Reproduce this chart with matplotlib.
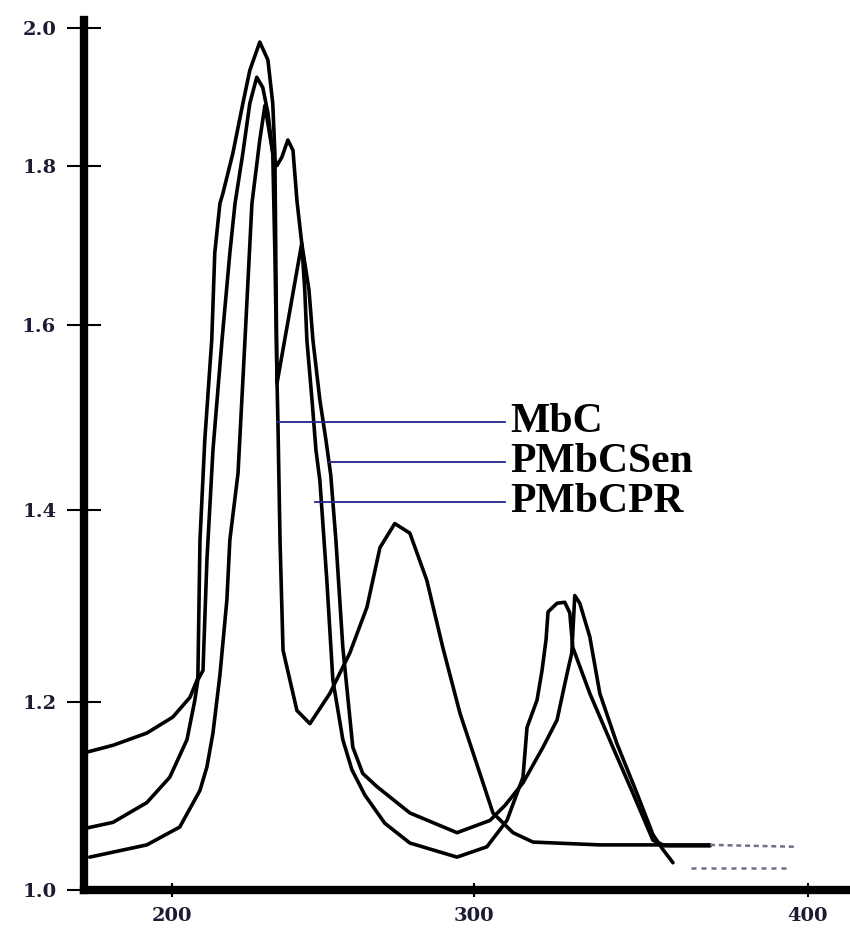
import numpy as np
import matplotlib.pyplot as plt

# UV spectra (wavelength nm, absorbance)
mbc_x = [172.8, 191.7, 202.6, 209.3, 211.6, 213.6, 215.9, 218.2, 219.2, 221.9,
         224.2, 226.5, 229.1, 230.8, 233.4, 234.1, 234.8, 235.1, 235.8, 236.8,
         241.4, 245.7, 252.3, 258.9, 264.6, 268.9, 273.8, 278.8, 284.4, 289.7,
         295.4, 301.8, 305.7, 311.7, 317.7, 337.7, 370.7]
mbc_y = [1.035, 1.048, 1.067, 1.106, 1.131, 1.167, 1.228, 1.306, 1.369, 1.440,
         1.584, 1.753, 1.838, 1.888, 1.819, 1.691, 1.541, 1.497, 1.369, 1.254,
         1.191, 1.177, 1.209, 1.251, 1.299, 1.361, 1.386, 1.376, 1.327, 1.257,
         1.188, 1.124, 1.082, 1.061, 1.051, 1.048, 1.048]
mbc_tail_x = [370.7, 396.7]
mbc_tail_y = [1.048, 1.046]

sen_x = [171.9, 180.5, 191.7, 199.3, 205.0, 207.6, 208.6, 210.3, 211.6, 213.6,
         216.6, 219.2, 220.9, 223.5, 225.8, 228.1, 230.1, 231.8, 233.4, 234.8,
         236.4, 238.4, 240.1, 241.4, 243.0, 245.4, 246.7, 249.0, 251.0, 252.6,
         254.3, 256.6, 259.9, 263.2, 267.9, 278.8, 294.4, 304.8, 309.3, 314.7,
         320.7, 324.9, 326.6, 328.1, 329.3, 330.2, 331.7, 334.7, 337.7, 342.8,
         348.8, 353.6, 356.6, 359.6]
sen_y = [1.066, 1.072, 1.093, 1.120, 1.160, 1.202, 1.223, 1.233, 1.348, 1.465,
         1.584, 1.691, 1.753, 1.819, 1.891, 1.929, 1.914, 1.877, 1.819, 1.801,
         1.813, 1.838, 1.823, 1.757, 1.703, 1.644, 1.584, 1.519, 1.476, 1.438,
         1.369, 1.257, 1.152, 1.124, 1.110, 1.082, 1.061, 1.074, 1.090, 1.114,
         1.152, 1.181, 1.209, 1.233, 1.251, 1.311, 1.303, 1.268, 1.209, 1.156,
         1.103, 1.059, 1.043, 1.029]
sen_tail_x = [365.1, 395.0]
sen_tail_y = [1.023, 1.023]

pr_x = [172.2, 180.5, 191.7, 200.3, 206.0, 208.6, 209.3, 210.9, 213.2, 214.2,
        215.9, 216.9, 220.2, 223.5, 225.8, 229.1, 231.8, 233.4, 234.1, 234.4,
        234.8, 239.1, 243.0, 244.0, 244.7, 246.4, 247.7, 249.0, 251.3, 253.3,
        256.6, 259.6, 263.9, 270.5, 278.8, 294.4, 303.9, 309.9, 314.7, 315.9,
        318.9, 320.4, 321.6, 322.2, 324.9, 327.2, 328.7, 329.6, 334.7, 341.6,
        347.6, 353.6, 357.2, 370.7]
pr_y = [1.147, 1.154, 1.167, 1.184, 1.205, 1.225, 1.369, 1.476, 1.584, 1.691,
        1.753, 1.766, 1.819, 1.891, 1.939, 1.980, 1.954, 1.891, 1.819, 1.691,
        1.537, 1.619, 1.703, 1.644, 1.584, 1.519, 1.465, 1.432, 1.327, 1.223,
        1.160, 1.128, 1.101, 1.071, 1.050, 1.035, 1.046, 1.074, 1.120, 1.173,
        1.202, 1.233, 1.265, 1.294, 1.303, 1.304, 1.293, 1.257, 1.209, 1.152,
        1.103, 1.053, 1.047, 1.047]

# labels with the point where each pointer line touches its curve
names = ['MbC', 'PMbCSen', 'PMbCPR']
pointer_x = [234.8, 252.0, 247.4]
pointer_y = [1.495, 1.452, 1.409]
pointer_end = 309.3

x_ticks = [200, 300, 400]
y_ticks = [1.0, 1.2, 1.4, 1.6, 1.8, 2.0]

# the scan is unevenly stretched, so both axes get a piecewise scale
x_knots = [100, 200, 300, 400, 500]
x_pos = [-130, 172, 474, 808, 1142]
y_knots = [0.8, 1.0, 1.2, 1.4, 1.6, 1.8, 2.0, 2.2]
y_pos = [-188, 0, 188, 380, 565, 724, 862, 1000]


def fx(v):
    return np.interp(v, x_knots, x_pos)


def ix(p):
    return np.interp(p, x_pos, x_knots)


def fy(v):
    return np.interp(v, y_knots, y_pos)


def iy(p):
    return np.interp(p, y_pos, y_knots)


fig = plt.figure(figsize=(8.5, 9.3), dpi=100)
ax = fig.add_axes([84 / 850, 40 / 930, 766 / 850, 870 / 930])
ax.set_xscale('function', functions=(fx, ix))
ax.set_yscale('function', functions=(fy, iy))

for xs, ys in [(mbc_x, mbc_y), (sen_x, sen_y), (pr_x, pr_y)]:
    ax.plot(xs, ys, color='black', lw=2.6, solid_capstyle='round',
            solid_joinstyle='round')
ax.plot(mbc_tail_x, mbc_tail_y, color='#7a6a8a', lw=1.8, ls=(0, (2, 1.5)))
ax.plot(sen_tail_x, sen_tail_y, color='#7a6a8a', lw=1.8, ls=(0, (2, 2)))

for name, px, py in zip(names, pointer_x, pointer_y):
    ax.plot([px, pointer_end], [py, py], color='#23238a', lw=1.3)
    ax.text(pointer_end + 1.5, py, name, fontsize=30, fontweight='bold',
            family='Liberation Serif', va='center', ha='left')

ax.set_xlim(170.9, 412.6)
ax.set_ylim(1.0, 2.012)

for s in ['top', 'right']:
    ax.spines[s].set_visible(False)
ax.spines['left'].set_linewidth(6)
ax.spines['bottom'].set_linewidth(6)

tick_font = dict(fontsize=14, fontweight='bold', family='DejaVu Serif',
                 color='#1b1b33')
ax.set_xticks(x_ticks)
ax.set_xticklabels([str(t) for t in x_ticks], **tick_font)
ax.set_yticks(y_ticks)
ax.set_yticklabels([f'{t:.1f}' for t in y_ticks], **tick_font)
ax.yaxis.set_minor_locator(plt.NullLocator())
ax.xaxis.set_minor_locator(plt.NullLocator())
ax.tick_params(axis='y', direction='inout', length=24, width=1.5, pad=8)
ax.tick_params(axis='x', direction='inout', length=10, width=1.5, pad=7)

fig.savefig('out.png', dpi=100)
